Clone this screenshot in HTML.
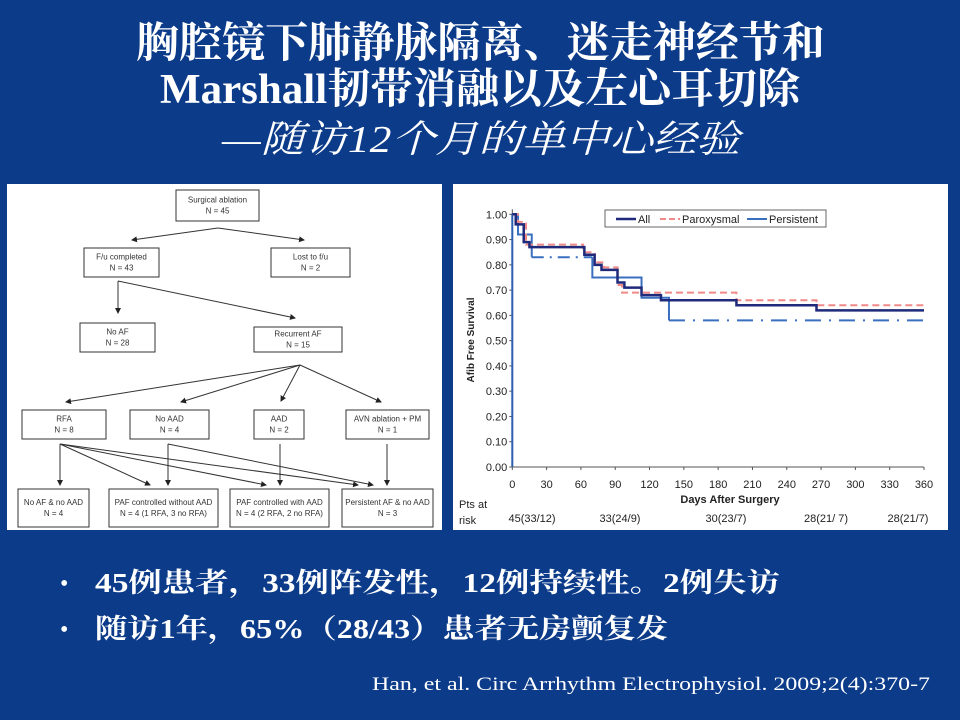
<!DOCTYPE html>
<html><head><meta charset="utf-8"><style>
html,body{margin:0;padding:0;width:960px;height:720px;overflow:hidden;background:#0c3b8a}
svg{position:absolute;left:0;top:0}
</style></head><body>
<svg id="s" width="960" height="720" xmlns="http://www.w3.org/2000/svg">
<rect width="960" height="720" fill="#0c3b8a"/>
<g fill="#fff" font-family="'Liberation Serif','Noto Serif CJK SC','Noto Sans CJK SC',serif">
<text x="136" y="57" font-size="42" font-weight="bold" textLength="689" lengthAdjust="spacingAndGlyphs">胸腔镜下肺静脉隔离、迷走神经节和</text>
<text x="160" y="103" font-size="42" font-weight="bold" textLength="640" lengthAdjust="spacingAndGlyphs">Marshall韧带消融以及左心耳切除</text>
<text x="222" y="152" font-size="38" font-style="italic" textLength="518" lengthAdjust="spacingAndGlyphs">—随访12个月的单中心经验</text>
<text x="60" y="591" font-size="24">•</text>
<text x="95" y="592" font-size="27" font-weight="bold" textLength="685" lengthAdjust="spacingAndGlyphs">45例患者，33例阵发性，12例持续性。2例失访</text>
<text x="60" y="637" font-size="24">•</text>
<text x="95" y="638" font-size="27" font-weight="bold" textLength="573" lengthAdjust="spacingAndGlyphs">随访1年，65%（28/43）患者无房颤复发</text>
<text x="372" y="690" font-size="19" textLength="558" lengthAdjust="spacingAndGlyphs">Han, et al. Circ Arrhythm Electrophysiol. 2009;2(4):370-7</text>
</g>
<rect x="7" y="184" width="435" height="346" fill="#fff"/>
<rect x="453" y="184" width="495" height="346" fill="#fff"/>
<defs><marker id="ar" markerWidth="6" markerHeight="6" refX="5" refY="3" orient="auto" markerUnits="userSpaceOnUse"><path d="M0,0L6,3L0,6z" fill="#222"/></marker></defs>
<g id="fc" stroke="#333" stroke-width="1" fill="none"></g>
<g id="fct" font-family="'Liberation Sans',sans-serif" font-size="8" fill="#333" text-anchor="middle"></g>
<g id="ch"></g>
</svg>
<script>
var NS="http://www.w3.org/2000/svg";
function el(p,t,a,txt){var e=document.createElementNS(NS,t);for(var k in a)e.setAttribute(k,a[k]);if(txt!=null)e.textContent=txt;document.getElementById(p).appendChild(e);return e;}
var boxes=[[176,190,83,31,"Surgical ablation","N = 45"],[84,248,75,29,"F/u completed","N = 43"],[271,248,79,29,"Lost to f/u","N = 2"],
[80,323,75,29,"No AF","N = 28"],[254,327,88,25,"Recurrent AF","N = 15"],[22,410,84,29,"RFA","N = 8"],[130,410,79,29,"No AAD","N = 4"],
[254,410,50,29,"AAD","N = 2"],[346,410,83,29,"AVN ablation + PM","N = 1"],[18,489,71,38,"No AF & no AAD","N = 4"],
[109,489,109,38,"PAF controlled without AAD","N = 4 (1 RFA, 3 no RFA)"],[230,489,99,38,"PAF controlled with AAD","N = 4 (2 RFA, 2 no RFA)"],[342,489,91,38,"Persistent AF & no AAD","N = 3"]];
boxes.forEach(function(b){el("fc","rect",{x:b[0],y:b[1],width:b[2],height:b[3]});var cx=b[0]+b[2]/2,my=b[1]+b[3]/2;
el("fct","text",{x:cx,y:my-3},b[4]);el("fct","text",{x:cx,y:my+8},b[5]);});
var arrows=[[218,228,132,240],[218,228,304,240],[118,281,118,313],[118,281,295,318],[300,365,66,402],[300,365,181,402],[300,365,281,401],[300,365,381,402],
[60,444,60,485],[60,444,150,485],[60,444,266,485],[60,444,358,485],[168,444,168,485],[168,444,373,485],[280,444,280,485],[387,444,387,485]];
arrows.forEach(function(a){el("fc","line",{x1:a[0],y1:a[1],x2:a[2],y2:a[3],"marker-end":"url(#ar)"});});
function X(d){return 512.3+d*1.1436;}function Y(v){return 467-v*252.7;}
el("ch","line",{x1:X(0),y1:Y(1.02),x2:X(0),y2:Y(0),stroke:"#555","stroke-width":1});
el("ch","line",{x1:X(0),y1:Y(0),x2:X(360),y2:Y(0),stroke:"#555","stroke-width":1});
for(var i=0;i<=10;i++){var v=i/10;el("ch","line",{x1:X(0)-3,y1:Y(v),x2:X(0),y2:Y(v),stroke:"#555"});
el("ch","text",{x:X(0)-5,y:Y(v)+4,"font-size":11,"font-family":"Liberation Sans,sans-serif","text-anchor":"end",fill:"#222"},v.toFixed(2));}
for(var d=0;d<=360;d+=30){el("ch","line",{x1:X(d),y1:Y(0),x2:X(d),y2:Y(0)+3,stroke:"#555"});
el("ch","text",{x:X(d),y:488,"font-size":11,"font-family":"Liberation Sans,sans-serif","text-anchor":"middle",fill:"#222"},d);}
el("ch","text",{x:730,y:503,"font-size":11,"font-weight":"bold","font-family":"Liberation Sans,sans-serif","text-anchor":"middle",fill:"#222"},"Days After Surgery");
el("ch","text",{x:0,y:0,transform:"translate(474,340) rotate(-90)","font-size":10,"font-weight":"bold","font-family":"Liberation Sans,sans-serif","text-anchor":"middle",fill:"#222"},"Afib Free Survival");
var ft={"font-size":11,"font-family":"Liberation Sans,sans-serif",fill:"#222"};
function T(x,y,s,anc){var a=Object.assign({x:x,y:y,"text-anchor":anc||"start"},ft);el("ch","text",a,s);}
T(459,508,"Pts at");T(459,524,"risk");T(532,522,"45(33/12)","middle");T(620,522,"33(24/9)","middle");T(726,522,"30(23/7)","middle");T(826,522,"28(21/ 7)","middle");T(908,522,"28(21/7)","middle");
function step(pts){var s="M"+X(pts[0][0])+","+Y(pts[0][1]);for(var i=1;i<pts.length;i++){s+="H"+X(pts[i][0])+"V"+Y(pts[i][1]);}return s;}
el("ch","path",{d:"M"+X(0)+","+Y(0)+"V"+Y(1),stroke:"#2d5fb0","stroke-width":2,fill:"none"});
el("ch","path",{d:step([[0,1],[5,0.92],[17,0.83]]),stroke:"#3a6fc0","stroke-width":2,fill:"none"});
el("ch","path",{d:"M"+X(17)+","+Y(0.83)+"H"+X(70),stroke:"#3a6fc0","stroke-width":2,fill:"none","stroke-dasharray":"12,6,2,6"});
el("ch","path",{d:"M"+X(70)+","+Y(0.83)+"V"+Y(0.75)+"H"+X(113)+"V"+Y(0.67)+"H"+X(137)+"V"+Y(0.58),stroke:"#3a6fc0","stroke-width":2,fill:"none"});
el("ch","path",{d:"M"+X(137)+","+Y(0.58)+"H"+X(360),stroke:"#3a6fc0","stroke-width":2,fill:"none","stroke-dasharray":"16,8,2,8"});
el("ch","path",{d:step([[0,1],[5,0.97],[12,0.88],[62,0.85],[72,0.81],[80,0.79],[92,0.72],[96,0.69],[196,0.66],[266,0.64],[360,0.64]]),stroke:"#f08a88","stroke-width":2,fill:"none","stroke-dasharray":"7,4"});
el("ch","path",{d:step([[0,1],[3,0.96],[10,0.89],[15,0.87],[63,0.84],[72,0.8],[78,0.78],[92,0.73],[98,0.71],[113,0.68],[130,0.66],[196,0.64],[266,0.62],[360,0.62]]),stroke:"#1f2a7a","stroke-width":2.5,fill:"none"});
el("ch","rect",{x:605,y:210,width:221,height:17,fill:"#fff",stroke:"#666"});
el("ch","line",{x1:616,y1:219,x2:636,y2:219,stroke:"#1f2a7a","stroke-width":2.5});T(638,223,"All");
el("ch","line",{x1:660,y1:219,x2:680,y2:219,stroke:"#f08a88","stroke-width":2,"stroke-dasharray":"6,3"});T(682,223,"Paroxysmal");
el("ch","line",{x1:747,y1:219,x2:767,y2:219,stroke:"#3a6fc0","stroke-width":2});T(769,223,"Persistent");
</script>
</body></html>
